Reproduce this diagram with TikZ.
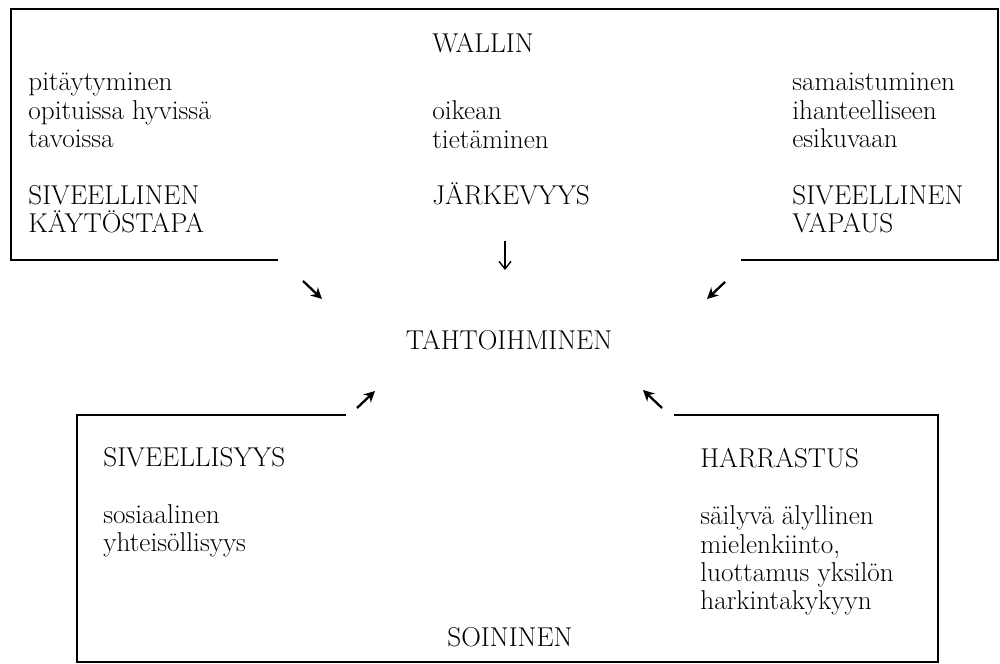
\documentclass[tikz,border=0pt]{standalone}
\usepackage{tikz}
\usetikzlibrary{arrows.meta}
\tikzset{
  txt/.style={font=\fontsize{15.5}{16.2}\selectfont,align=left,inner sep=0pt,anchor=base west},
  frame/.style={line width=1.3pt,line cap=rect},
  ptr/.style={-{Stealth[length=2.2mm,width=2.2mm]},line width=1.3pt},
  down/.style={-{Straight Barb[length=1.5mm,width=2.4mm]},line width=0.8pt}
}
\begin{document}
\begin{tikzpicture}[x=0.2mm,y=-0.2mm]
\useasboundingbox (0,0) rectangle (1000,664);
% upper frame
\draw[frame] (277,260) -- (11,260) -- (11,9) -- (998,9) -- (998,260) -- (742,260);
% lower frame
\draw[frame] (345,415) -- (77,415) -- (77,662) -- (938,662) -- (938,415) -- (675,415);
% upper texts (placed at the baseline of the last line)
\node[txt] (wallin) at (432,53) {WALLIN};
\node[txt] (kaytos) at (28,233) {pitäytyminen\\opituissa hyvissä\\tavoissa\\[16.2pt]SIVEELLINEN\\KÄYTÖSTAPA};
\node[txt] (jarki) at (432,205) {oikean\\tietäminen\\[16.2pt]JÄRKEVYYS};
\node[txt] (vapaus) at (792,233) {samaistuminen\\ihanteelliseen\\esikuvaan\\[16.2pt]SIVEELLINEN\\VAPAUS};
% centre
\node[txt,anchor=base] (tahto) at (509,350) {TAHTOIHMINEN};
% lower texts
\node[txt] (sivee) at (103,552) {SIVEELLISYYS\\[16.2pt]sosiaalinen\\yhteisöllisyys};
\node[txt] (harr) at (700,610) {HARRASTUS\\[16.2pt]säilyvä älyllinen\\mielenkiinto,\\luottamus yksilön\\harkintakykyyn};
\node[txt,anchor=base] (soin) at (510,647) {SOININEN};
% arrows towards the centre
\coordinate (a1) at (303,281); \coordinate (b1) at (322,299);
\coordinate (a2) at (725,282); \coordinate (b2) at (707,299);
\coordinate (a3) at (357,408); \coordinate (b3) at (375,391);
\coordinate (a4) at (662,408); \coordinate (b4) at (643,390);
\coordinate (a5) at (505,241); \coordinate (b5) at (505,270);
\draw[ptr] (a1) -- (b1);
\draw[ptr] (a2) -- (b2);
\draw[ptr] (a3) -- (b3);
\draw[ptr] (a4) -- (b4);
\draw[down] (a5) -- (b5);
\end{tikzpicture}
\end{document}
